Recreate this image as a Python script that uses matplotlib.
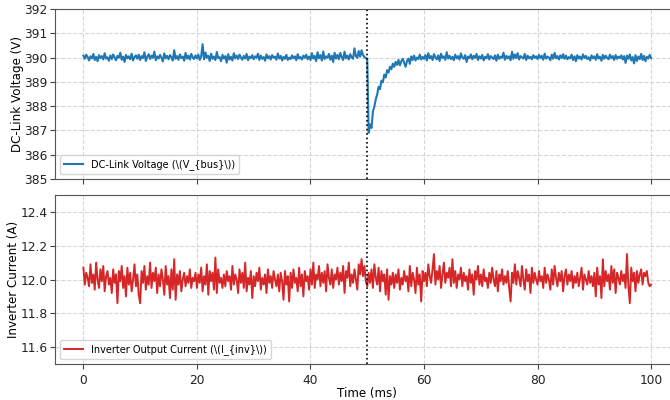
import numpy as np
import matplotlib
matplotlib.use("Agg")
import matplotlib.pyplot as plt

# time axis (ms), 0.25 ms step
time_ms = np.arange(401) * 0.25

v_bus = [
    390.08, 389.95, 390.12, 390.02, 389.88, 390.05, 389.97, 390.15, 389.90, 390.03, 389.85, 390.10, 389.98, 390.06, 389.92, 390.18, 389.96, 390.01, 389.87, 390.09,
    389.94, 390.13, 390.00, 389.89, 390.07, 389.99, 390.20, 389.91, 390.04, 389.82, 390.11, 389.97, 390.05, 389.93, 390.16, 389.88, 390.02, 390.09, 389.95, 390.12,
    389.90, 390.06, 389.98, 390.22, 389.86, 390.03, 390.14, 389.94, 390.08, 389.99, 390.25, 389.89, 390.05, 389.96, 390.11, 390.00, 389.84, 390.17, 389.97, 390.07,
    389.93, 390.10, 390.02, 389.88, 390.30, 389.95, 390.06, 389.91, 390.13, 389.98, 390.04, 389.87, 390.19, 389.96, 390.08, 389.92, 390.15, 390.01, 389.94, 390.09,
    389.97, 390.12, 389.90, 390.05, 390.55, 389.93, 390.21, 389.99, 390.07, 389.86, 390.16, 389.95, 390.04, 389.90, 390.23, 389.98, 390.02, 389.85, 390.11, 389.96,
    390.06, 389.79, 390.14, 389.92, 390.03, 389.88, 390.18, 389.97, 390.08, 389.94, 390.12, 390.00, 389.91, 390.07, 389.96, 390.15, 389.89, 390.04, 389.98, 390.10,
    389.93, 390.05, 389.99, 390.16, 389.90, 390.08, 389.95, 390.02, 389.87, 390.13, 389.97, 390.06, 389.92, 390.10, 389.99, 390.04, 389.91, 390.17, 389.96, 390.07,
    389.88, 390.03, 389.95, 390.11, 389.90, 390.00, 389.94, 390.09, 389.97, 390.05, 389.89, 390.14, 389.96, 390.02, 389.92, 390.08, 389.99, 390.12, 389.93, 390.04,
    389.90, 390.18, 389.96, 390.07, 389.85, 390.22, 389.97, 390.10, 389.88, 390.25, 389.94, 390.05, 389.99, 390.15, 389.91, 390.08, 389.82, 390.20, 389.96, 390.11,
    389.93, 390.19, 390.02, 389.90, 390.24, 389.97, 390.08, 389.92, 390.14, 390.01, 389.95, 390.38, 390.06, 389.99, 390.27, 390.04, 390.30, 390.10, 390.02, 389.98,
    389.95, 386.90, 387.25, 387.10, 387.78, 387.98, 388.28, 388.48, 388.80, 388.70, 389.05, 388.98, 389.30, 389.18, 389.48, 389.38, 389.62, 389.52, 389.75, 389.62,
    389.82, 389.70, 389.90, 389.68, 389.85, 389.95, 389.78, 389.62, 389.86, 389.96, 389.74, 390.05, 389.90, 390.08, 389.88, 390.00, 389.94, 390.12, 389.92, 390.03,
    389.95, 390.10, 389.88, 390.18, 389.97, 390.06, 389.90, 390.14, 390.01, 389.93, 390.09, 389.86, 390.16, 389.98, 390.05, 389.91, 390.22, 389.96, 390.07, 389.94,
    390.03, 389.89, 390.12, 389.97, 390.06, 389.92, 390.17, 390.00, 389.95, 390.10, 389.82, 390.04, 389.98, 390.13, 389.93, 390.07, 389.99, 390.15, 389.90, 390.05,
    389.96, 390.11, 389.88, 390.03, 389.97, 390.14, 389.92, 390.06, 390.00, 389.94, 390.09, 389.87, 390.12, 389.95, 390.04, 389.99, 390.20, 389.91, 390.07, 389.97,
    390.05, 389.89, 390.24, 389.95, 390.13, 389.98, 390.18, 389.92, 390.06, 390.01, 389.96, 390.15, 389.90, 390.08, 389.97, 390.03, 389.93, 390.10, 389.99, 390.05,
    389.94, 390.11, 389.98, 390.07, 389.91, 390.16, 389.96, 390.04, 390.00, 389.89, 390.12, 389.95, 390.19, 389.97, 390.06, 389.92, 390.09, 389.98, 390.14, 389.95,
    390.08, 389.93, 390.02, 389.97, 390.12, 389.90, 390.05, 389.85, 390.10, 389.96, 390.04, 389.92, 390.13, 389.98, 390.07, 389.94, 390.01, 389.88, 390.09, 389.97,
    390.05, 389.91, 390.14, 389.96, 390.03, 389.87, 390.11, 389.95, 390.08, 389.99, 389.93, 390.12, 389.97, 390.06, 389.90, 390.10, 389.95, 390.04, 389.98, 390.09,
    389.92, 390.06, 389.78, 390.08, 389.95, 390.13, 389.88, 390.02, 389.76, 390.10, 389.86, 390.04, 389.94, 390.15, 389.90, 390.07, 389.85, 390.03, 389.96, 390.11,
    389.98,
]

i_inv = [
    12.07, 11.97, 12.04, 12.01, 11.96, 12.09, 11.98, 12.03, 11.94, 12.10, 12.00, 11.95, 12.06, 11.99, 12.08, 11.93, 12.02, 12.05, 11.97, 12.01,
    11.92, 12.06, 11.98, 12.03, 11.86, 12.05, 11.99, 12.08, 11.95, 12.02, 11.90, 12.07, 11.97, 12.04, 11.93, 12.00, 12.09, 11.96, 12.03, 11.91,
    11.86, 12.05, 11.98, 12.08, 11.94, 12.02, 11.97, 12.10, 11.95, 12.04, 11.99, 12.07, 11.92, 12.03, 11.96, 12.06, 12.00, 11.91, 12.08, 11.97,
    12.02, 11.89, 12.06, 11.94, 12.12, 11.88, 12.03, 11.97, 12.05, 11.93, 12.00, 12.04, 11.96, 12.02, 11.98, 12.06, 11.95, 12.01, 11.99, 12.04,
    11.95, 12.03, 11.98, 12.07, 11.93, 12.02, 11.97, 12.09, 11.91, 12.05, 11.99, 12.04, 11.94, 12.13, 11.92, 12.06, 11.98, 12.01, 11.95, 12.03,
    11.96, 12.05, 11.99, 12.02, 11.94, 12.08, 11.97, 12.03, 12.00, 11.92, 12.06, 11.98, 12.04, 11.95, 12.10, 11.93, 12.01, 11.97, 12.05, 11.89,
    12.02, 11.96, 12.04, 11.99, 12.07, 11.94, 12.01, 11.97, 12.03, 11.92, 12.06, 11.98, 12.02, 11.95, 12.05, 12.00, 11.96, 12.03, 11.93, 12.04,
    11.99, 11.88, 12.05, 11.97, 12.02, 11.87, 12.04, 11.95, 12.06, 11.98, 12.01, 11.93, 12.07, 11.96, 12.03, 11.90, 12.05, 11.99, 12.02, 11.94,
    12.06, 11.97, 12.10, 11.95, 12.03, 12.00, 12.08, 11.96, 12.04, 11.98, 12.05, 11.93, 12.09, 12.01, 11.97, 12.06, 11.95, 12.03, 12.00, 12.07,
    11.97, 12.04, 11.99, 12.08, 11.92, 12.05, 12.01, 12.10, 11.96, 12.03, 11.98, 12.06, 12.00, 11.94, 12.09, 12.03, 12.12, 12.02, 12.08, 11.99,
    11.96, 12.04, 11.98, 12.06, 11.95, 12.09, 12.01, 11.97, 12.07, 11.93, 12.05, 11.99, 12.03, 11.91, 12.06, 11.88, 12.02, 11.97, 12.04, 11.95,
    12.03, 11.98, 12.06, 11.94, 12.01, 11.97, 12.05, 11.99, 12.02, 11.93, 12.08, 11.96, 12.04, 12.00, 11.92, 12.07, 11.97, 12.03, 11.87, 12.05,
    11.99, 12.04, 11.96, 12.09, 12.02, 11.98, 12.06, 12.15, 11.97, 12.05, 12.00, 12.08, 11.95, 12.03, 12.10, 11.98, 12.04, 12.01, 12.07, 11.96,
    12.12, 11.98, 12.05, 11.95, 12.03, 12.00, 12.07, 11.96, 12.04, 11.99, 12.02, 11.94, 12.06, 11.98, 12.03, 11.91, 12.05, 12.00, 12.08, 11.97,
    12.03, 11.96, 12.06, 11.99, 12.01, 11.95, 12.04, 11.98, 12.07, 12.00, 11.96, 12.05, 11.93, 12.03, 11.99, 12.06, 11.97, 12.02, 11.98, 12.05,
    11.95, 11.87, 12.04, 11.98, 12.09, 11.97, 12.05, 12.01, 11.96, 12.08, 12.00, 11.94, 12.06, 11.99, 12.03, 11.92, 12.07, 11.98, 12.04, 12.00,
    11.97, 12.05, 11.99, 12.02, 11.95, 12.07, 11.98, 12.03, 12.00, 11.94, 12.06, 11.97, 12.08, 12.01, 11.96, 12.04, 11.99, 12.05, 11.93, 12.02,
    12.06, 11.97, 12.03, 11.99, 12.05, 11.95, 12.02, 11.98, 12.04, 11.96, 12.01, 12.07, 11.94, 12.03, 12.00, 11.97, 12.05, 11.98, 12.02, 11.96,
    12.04, 11.90, 12.07, 11.97, 12.02, 11.89, 12.12, 11.96, 12.05, 11.99, 12.03, 11.94, 12.08, 11.98, 12.06, 11.92, 12.04, 12.01, 11.97, 12.05,
    11.99, 12.03, 11.95, 12.15, 11.96, 11.86, 12.07, 11.99, 12.04, 11.93, 12.05, 11.98, 12.03, 12.06, 11.97, 12.04, 12.02, 12.05, 11.98, 11.96,
    11.97,
]

event_ms = 50
x_ticks = [0, 20, 40, 60, 80, 100]
v_ticks = [385, 386, 387, 388, 389, 390, 391, 392]
i_ticks = [11.6, 11.8, 12.0, 12.2, 12.4]

plt.rcParams["font.size"] = 9
fig = plt.figure(figsize=(6.7, 4.0), dpi=100)
ax1 = fig.add_axes([55 / 670, (400 - 179) / 400, 624.5 / 670, 170 / 400])
ax2 = fig.add_axes([55 / 670, (400 - 364) / 400, 624.5 / 670, 169 / 400], sharex=ax1)

ax1.plot(time_ms, v_bus, color="#1f77b4", lw=1.5, label="DC-Link Voltage (\\(V_{bus}\\))")
ax2.plot(time_ms, i_inv, color="#d62728", lw=1.4, label="Inverter Output Current (\\(I_{inv}\\))")

for ax in (ax1, ax2):
    ax.axvline(event_ms, color="black", ls=":", lw=1.2)
    ax.grid(True, ls="--", color="#cccccc", lw=0.8, alpha=0.8)
    ax.legend(loc="lower left", fontsize=7.0, framealpha=0.8)
    ax.tick_params(labelsize=8.8, color="#444444", labelcolor="#222222")
    ax.tick_params(axis="y", pad=1.8)
    for s in ax.spines.values():
        s.set_color("#555555")

ax1.set_xlim(-5, 105)
ax1.set_xticks(x_ticks)
ax1.set_ylim(385, 392)
ax1.set_yticks(v_ticks)
ax1.tick_params(labelbottom=False)
ax1.set_ylabel("DC-Link Voltage (V)", fontsize=8.6, labelpad=0)

ax2.set_ylim(11.5, 12.5)
ax2.set_yticks(i_ticks)
ax2.set_ylabel("Inverter Current (A)", fontsize=8.6, labelpad=0)
ax2.set_xlabel("Time (ms)", fontsize=8.6, labelpad=0.5)

fig.savefig("out.png", dpi=100)
